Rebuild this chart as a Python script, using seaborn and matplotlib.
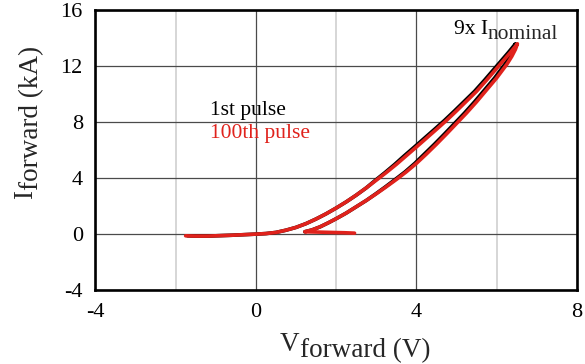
import matplotlib
matplotlib.use("Agg")
import matplotlib.pyplot as plt
import seaborn as sns
import pandas as pd

# forward I-V loop (V in volts, I in kA)
# 100th pulse: left tail -> rising branch -> peak -> falling branch -> small tail
v_100 = [-1.75, -1.5, -1.2, -0.9, -0.6, -0.3, 0.0,
         0.25, 0.5, 0.75, 1.0, 1.25, 1.5, 1.75, 2.0, 2.25, 2.5, 2.75, 3.0, 3.25, 3.5,
         3.75, 4.0, 4.25, 4.5, 4.75, 5.0, 5.25, 5.5, 5.75, 6.05, 6.2, 6.35, 6.45, 6.52,
         6.47, 6.38, 6.26, 6.0, 5.75, 5.5, 5.25, 5.0, 4.75, 4.5, 4.25, 4.0, 3.75, 3.5,
         3.25, 3.0, 2.75, 2.5, 2.25, 2.0, 1.8, 1.6, 1.4, 1.22,
         1.5, 1.9, 2.2, 2.46]
i_100 = [-0.12, -0.14, -0.14, -0.11, -0.08, -0.04, 0.0,
         0.04, 0.12, 0.28, 0.48, 0.75, 1.08, 1.45, 1.86, 2.3, 2.78, 3.3, 3.85, 4.4, 4.98,
         5.6, 6.22, 6.85, 7.48, 8.12, 8.8, 9.5, 10.2, 11.0, 12.0, 12.5, 13.0, 13.35, 13.6,
         13.2, 12.7, 12.15, 11.15, 10.3, 9.45, 8.65, 7.9, 7.15, 6.42, 5.72, 5.05, 4.45, 3.9,
         3.38, 2.88, 2.4, 1.95, 1.5, 1.1, 0.8, 0.52, 0.3, 0.17,
         0.15, 0.12, 0.1, 0.07]

# 1st pulse: almost on top of the 100th, a touch to the left at high current
v_1st = [-1.7, -1.5, -1.2, -0.9, -0.6, -0.3, 0.0,
         0.25, 0.5, 0.75, 1.0, 1.25, 1.5, 1.75, 2.0, 2.25, 2.5, 2.75, 2.98, 3.22, 3.46,
         3.7, 3.95, 4.2, 4.45, 4.7, 4.95, 5.2, 5.45, 5.7, 6.0, 6.15, 6.3, 6.4, 6.47,
         6.42, 6.33, 6.21, 5.95, 5.7, 5.45, 5.2, 4.95, 4.7, 4.45, 4.2, 3.96, 3.72, 3.47,
         3.23, 2.99, 2.75, 2.5, 2.25, 2.0, 1.8, 1.6, 1.4, 1.22]
i_1st = [-0.12, -0.14, -0.14, -0.11, -0.08, -0.04, 0.0,
         0.04, 0.12, 0.28, 0.48, 0.75, 1.08, 1.45, 1.86, 2.3, 2.78, 3.3, 3.85, 4.4, 4.98,
         5.6, 6.22, 6.85, 7.48, 8.12, 8.8, 9.5, 10.2, 11.0, 12.0, 12.5, 13.0, 13.35, 13.6,
         13.2, 12.7, 12.15, 11.15, 10.3, 9.45, 8.65, 7.9, 7.15, 6.42, 5.72, 5.05, 4.45, 3.9,
         3.38, 2.88, 2.4, 1.95, 1.5, 1.1, 0.8, 0.52, 0.3, 0.17]

x_ticks = [-4, 0, 4, 8]
x_minor = [-2, 2, 6]
y_ticks = [-4, 0, 4, 8, 12, 16]

red = "#e0221c"

sns.set_style("white")
plt.rcParams["font.family"] = ["Liberation Serif", "DejaVu Serif"]
plt.rcParams["axes.unicode_minus"] = False

fig = plt.figure(figsize=(5.85, 3.64), dpi=100)
ax = fig.add_axes([0.163, 0.203, 0.823, 0.769])

df1 = pd.DataFrame({"V": v_1st, "I": i_1st})
df100 = pd.DataFrame({"V": v_100, "I": i_100})
sns.lineplot(data=df1, x="V", y="I", sort=False, estimator=None, color="black",
             lw=2.6, ax=ax, zorder=3, solid_joinstyle="round", solid_capstyle="round")
sns.lineplot(data=df100, x="V", y="I", sort=False, estimator=None, color=red,
             lw=2.6, ax=ax, zorder=4, solid_joinstyle="round", solid_capstyle="round")

ax.set_xlim(-4, 8)
ax.set_ylim(-4, 16)
ax.set_xticks(x_ticks)
ax.set_xticks(x_minor, minor=True)
ax.set_yticks(y_ticks)
ax.grid(True, which="major", color="#4a4a4a", lw=0.9)
ax.grid(True, which="minor", axis="x", color="#cfcfcf", lw=1.2)
ax.set_axisbelow(True)
ax.tick_params(which="both", length=0, labelsize=16, pad=9, colors="black")
for s in ax.spines.values():
    s.set_color("black")
    s.set_linewidth(1.9)
ax.set_xlabel("")
ax.set_ylabel("")

# axis titles with lowered "subscripts" in full size
xl = fig.text(280 / 585, 1 - 351 / 364, "V", fontsize=19.5, va="baseline")
ax.annotate("forward (V)", xy=(1, 0), xycoords=xl, xytext=(0, -4.5),
            textcoords="offset points", fontsize=19.5, va="bottom", ha="left")
yl = fig.text(38 / 585, 1 - 199 / 364, "I", fontsize=19.5, rotation=90,
              ha="right", va="bottom")
ax.annotate("forward (kA)", xy=(1, 1), xycoords=yl, xytext=(4.5, 0),
            textcoords="offset points", fontsize=19.5, rotation=90,
            ha="right", va="bottom")

# annotations
ax.text(-1.14, 8.5, "1st pulse", fontsize=15.5, color="black")
ax.text(-1.14, 6.85, "100th pulse", fontsize=15.5, color=red)
t9 = ax.text(4.93, 14.3, "9x I", fontsize=15.5, color="black")
ax.annotate("nominal", xy=(1, 0), xycoords=t9, xytext=(0, -3.5),
            textcoords="offset points", fontsize=15.5, va="bottom", ha="left")

fig.savefig("out.png", dpi=100, facecolor="white")
